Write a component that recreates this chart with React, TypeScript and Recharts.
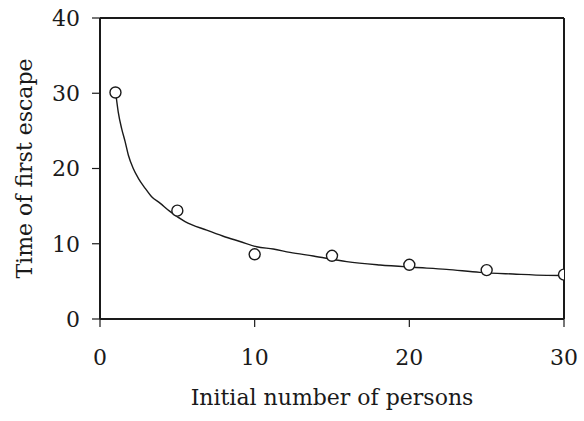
import React from 'react';
import {
  ComposedChart,
  Line,
  Scatter,
  XAxis,
  YAxis,
  ReferenceLine,
} from 'recharts';

// observed escape times (circles)
const persons = [1, 5, 10, 15, 20, 25, 30];
const escapeTimes = [30.1, 14.4, 8.6, 8.4, 7.2, 6.5, 5.9];

// fitted curve
const curveX = [1.03, 1.18, 1.4, 1.62, 1.83, 2.15, 2.48, 2.91, 3.34, 3.88, 4.52, 5.5, 6.9, 7.97, 9.05, 10.13, 11.2, 12.28, 13.79, 15.95, 18.1, 20.25, 22.4, 24.56, 26.7, 28.9, 30];
const curveY = [29.8, 27.5, 25.3, 23.6, 21.8, 20.0, 18.7, 17.4, 16.25, 15.4, 14.3, 12.95, 11.8, 11.0, 10.3, 9.6, 9.3, 8.86, 8.37, 7.62, 7.18, 6.87, 6.6, 6.2, 5.98, 5.8, 5.78];

const xTicks = [0, 10, 20, 30];
const yTicks = [0, 10, 20, 30, 40];

const points = persons.map((x, i) => ({ x, y: escapeTimes[i] }));
const curve = curveX.map((x, i) => ({ x, y: curveY[i] }));

const FONT = '"DejaVu Serif", serif';
const INK = '#1a1a1a';

const OpenCircle = (props: any) => (
  <circle cx={props.cx} cy={props.cy} r={5.5} fill="#fff" stroke={INK} strokeWidth={1.4} />
);

const App: React.FC = () => {
  return (
    <div style={{ position: 'absolute', left: 0, top: 0, width: 584, height: 421, background: '#fff' }}>
      <ComposedChart
        width={584}
        height={421}
        margin={{ top: 18, right: 20, left: 0, bottom: 0 }}
      >
        <XAxis
          type="number"
          dataKey="x"
          domain={[0, 30]}
          ticks={xTicks}
          allowDataOverflow
          height={102}
          stroke={INK}
          strokeWidth={2}
          tickSize={8}
          tickMargin={22}
          tickLine={{ stroke: INK, strokeWidth: 1.2 }}
          tick={{ fill: INK, fontSize: 22, fontFamily: FONT }}
          label={{
            value: 'Initial number of persons',
            position: 'insideBottom',
            offset: 16,
            style: { fill: INK, fontSize: 22, fontFamily: FONT },
          }}
        />
        <YAxis
          type="number"
          dataKey="y"
          domain={[0, 40]}
          ticks={yTicks}
          allowDataOverflow
          width={100}
          stroke={INK}
          strokeWidth={2}
          tickSize={8}
          tickMargin={12}
          tickLine={{ stroke: INK, strokeWidth: 1.2 }}
          tick={{ fill: INK, fontSize: 22, fontFamily: FONT }}
          label={{
            value: 'Time of first escape',
            angle: -90,
            position: 'insideLeft',
            offset: 24,
            style: { fill: INK, fontSize: 22, fontFamily: FONT, textAnchor: 'middle' },
          }}
        />
        <ReferenceLine y={40} stroke={INK} strokeWidth={2} />
        <ReferenceLine x={30} stroke={INK} strokeWidth={2} />
        <Line
          data={curve}
          dataKey="y"
          type="monotone"
          stroke={INK}
          strokeWidth={1.4}
          dot={false}
          activeDot={false}
          isAnimationActive={false}
        />
        <Scatter
          data={points}
          dataKey="y"
          shape={OpenCircle}
          isAnimationActive={false}
        />
      </ComposedChart>
    </div>
  );
};

export default App;
